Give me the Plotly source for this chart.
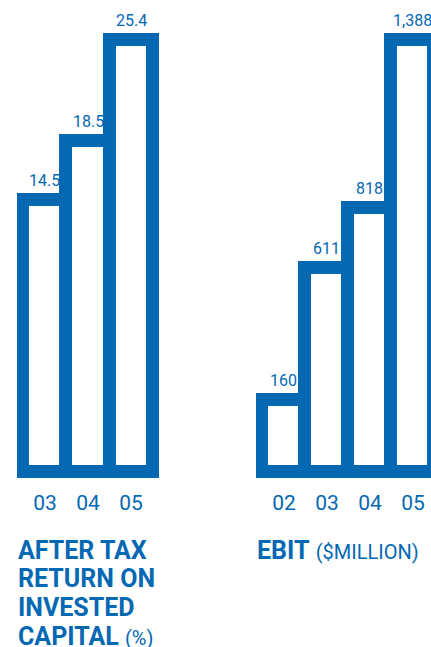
import plotly.graph_objects as go

# Data
roic_years = ["03", "04", "05"]
roic_values = [14.5, 18.5, 25.4]
roic_labels = [f"{v:.1f}" for v in roic_values]
ebit_years = ["02", "03", "04", "05"]
ebit_values = [160, 611, 818, 1388]
ebit_labels = [f"{v:,}" for v in ebit_values]

# Baselines of the value scales (bars rise from these)
ROIC_FLOOR = -4.1
EBIT_FLOOR = -84

BLUE = "#0568B3"
FONT = "Roboto, Arial, sans-serif"
W, H = 431, 647


def px_x(p):
    return p / W


def px_y(p):
    return 1 - p / H


bar_style = dict(
    marker=dict(color="white", line=dict(color=BLUE, width=13)),
    width=1,
    cliponaxis=False,
    showlegend=False,
    hoverinfo="skip",
)

fig = go.Figure()
fig.add_trace(go.Bar(
    x=roic_years,
    y=[v - ROIC_FLOOR for v in roic_values],
    base=ROIC_FLOOR,
    xaxis="x", yaxis="y",
    **bar_style,
))
fig.add_trace(go.Bar(
    x=ebit_years,
    y=[v - EBIT_FLOOR for v in ebit_values],
    base=EBIT_FLOOR,
    xaxis="x2", yaxis="y2",
    **bar_style,
))

# Value labels just above each bar outline (category axes take the index)
for ys, labels, xr, yr in [
    (roic_values, roic_labels, "x", "y"),
    (ebit_values, ebit_labels, "x2", "y2"),
]:
    for idx, (val, lab) in enumerate(zip(ys, labels)):
        fig.add_annotation(
            x=idx, y=val, xref=xr, yref=yr, text=lab, showarrow=False,
            xanchor="center", yanchor="bottom", yshift=8,
            font=dict(family=FONT, size=16, color=BLUE),
        )

axis_common = dict(
    showgrid=False, zeroline=False, showline=False, ticks="",
    tickfont=dict(family=FONT, size=21, color=BLUE),
    ticklabelstandoff=8,
    fixedrange=True,
)

fig.update_layout(
    width=W, height=H,
    margin=dict(l=0, r=0, t=0, b=0),
    paper_bgcolor="white", plot_bgcolor="white",
    bargap=0,
    xaxis=dict(domain=[px_x(17), px_x(159)], range=[-0.65, 2.65],
               anchor="y", type="category", **axis_common),
    yaxis=dict(domain=[px_y(480), px_y(25)], range=[-4.647, 26.45],
               visible=False, anchor="x"),
    xaxis2=dict(domain=[px_x(256), 1], range=[-0.65, 3.42],
                anchor="y2", type="category", **axis_common),
    yaxis2=dict(domain=[px_y(480), px_y(25)], range=[-111.3, 1440.6],
                visible=False, anchor="x2"),
)

# Chart titles
title_lines = ["<b>AFTER TAX</b>", "<b>RETURN ON</b>", "<b>INVESTED</b>",
               "<b>CAPITAL</b> <span style='font-size:20px'>(%)</span>"]
for i, line in enumerate(title_lines):
    fig.add_annotation(
        x=px_x(16), y=px_y(550 + i * 28.7), xref="paper", yref="paper",
        xanchor="left", yanchor="middle", showarrow=False,
        text=line,
        font=dict(family=FONT, size=25, color=BLUE),
    )

fig.add_annotation(
    x=px_x(255), y=px_y(550), xref="paper", yref="paper",
    xanchor="left", yanchor="middle", showarrow=False,
    text="<b>EBIT</b> <span style='font-size:20px'>($MILLION)</span>",
    font=dict(family=FONT, size=25, color=BLUE),
)

fig.write_html("out.html")
